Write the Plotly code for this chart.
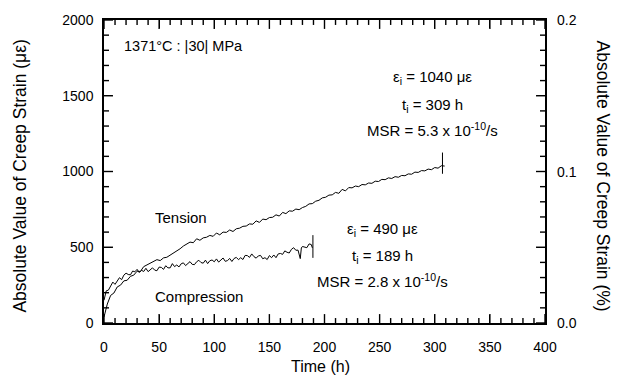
import plotly.graph_objects as go

# ---- data ----
tension_t = [0, 3, 6, 9, 12, 15, 18, 21, 24, 27, 30, 33, 36, 39, 42, 45, 48, 51, 54, 57,
             60, 63, 66, 69, 72, 75, 78, 81, 84, 87, 90, 93, 96, 99, 102, 105, 108, 111, 114, 117,
             120, 123, 126, 129, 132, 135, 138, 141, 144, 147, 150, 153, 156, 159, 162, 165, 168, 171, 174, 177,
             180, 183, 186, 189, 192, 195, 198, 201, 204, 207, 210, 213, 216, 219, 222, 225, 228, 231, 234, 237,
             240, 243, 246, 249, 252, 255, 258, 261, 264, 267, 270, 273, 276, 279, 282, 285, 288, 291, 294, 297,
             300, 303, 306, 309]
tension_strain = [40, 125, 182, 198, 238, 250, 278, 282, 308, 316, 342, 340, 372, 384, 396, 404, 418, 412, 430, 434,
                  448, 460, 478, 490, 508, 520, 534, 530, 556, 546, 562, 566, 578, 572, 594, 582, 600, 598, 614, 604,
                  622, 626, 638, 640, 654, 652, 674, 664, 686, 682, 696, 698, 714, 706, 730, 722, 740, 738, 752, 748,
                  762, 770, 786, 788, 804, 810, 826, 830, 844, 846, 862, 856, 882, 872, 894, 892, 904, 900, 914, 912,
                  924, 922, 936, 934, 948, 946, 958, 954, 966, 962, 974, 972, 984, 982, 996, 994, 1006, 1004, 1016, 1012,
                  1026, 1022, 1038, 1036]

compression_t = [0, 2, 4, 6, 8, 10, 12, 14, 16, 18, 20, 22, 24, 26, 28, 30, 32, 34, 36, 38,
                 40, 42, 44, 46, 48, 50, 52, 54, 56, 58, 60, 62, 64, 66, 68, 70, 72, 74, 76, 78,
                 80, 82, 84, 86, 88, 90, 92, 94, 96, 98, 100, 102, 104, 106, 108, 110, 112, 114, 116, 118,
                 120, 122, 124, 126, 128, 130, 132, 134, 136, 138, 140, 142, 144, 146, 148, 150, 152, 154, 156, 158,
                 160, 162, 164, 166, 168, 170, 172, 174, 176, 178, 179, 180, 182, 184, 186, 188, 189]
compression_strain = [150, 212, 217, 243, 270, 255, 276, 299, 286, 316, 329, 320, 318, 343, 338, 354, 333, 348, 340, 361,
                      339, 354, 364, 349, 345, 369, 367, 354, 378, 364, 364, 392, 372, 383, 370, 391, 397, 379, 391, 405,
                      387, 385, 404, 414, 399, 395, 415, 392, 411, 416, 404, 423, 402, 415, 429, 407, 412, 426, 406, 426,
                      433, 418, 431, 419, 446, 445, 433, 456, 438, 428, 443, 446, 424, 431, 419, 445, 431, 449, 431, 456,
                      459, 453, 476, 467, 462, 486, 497, 480, 481, 425, 495, 505, 502, 497, 522, 518, 496]

# end-of-test markers (vertical bars)
end_t = [307, 189.5]
end_low = [985, 430]
end_high = [1125, 580]

x_ticks = [0, 50, 100, 150, 200, 250, 300, 350, 400]
y_ticks = [0, 500, 1000, 1500, 2000]
x_minor_step = 10
y_minor_step = 100
# right-hand (%) axis labels, placed at the matching µε positions (1000 µε = 0.1 %)
y2_pos = [0, 1000, 2000]
y2_labels = ["0.0", "0.1", "0.2"]

FONT = "Liberation Sans, Arial, Helvetica, sans-serif"
line_style = dict(color="black", width=1)

# plot-area size in pixels (used to turn tick lengths in px into axis units)
W, H = 619, 386
ML, MR, MT, MB = 104, 74, 17, 63
PW, PH = W - ML - MR, H - MT - MB
X0, X1 = x_ticks[0], x_ticks[-1]
Y0, Y1 = y_ticks[0], y_ticks[-1]
ux = (X1 - X0) / PW   # axis units per pixel
uy = (Y1 - Y0) / PH
MAJOR_LEN, MINOR_LEN = 9, 5

fig = go.Figure()
fig.add_trace(go.Scatter(x=tension_t, y=tension_strain, mode="lines", line=line_style,
                         showlegend=False, hoverinfo="skip"))
fig.add_trace(go.Scatter(x=compression_t, y=compression_strain, mode="lines", line=line_style,
                         showlegend=False, hoverinfo="skip"))
for t, lo, hi in zip(end_t, end_low, end_high):
    fig.add_trace(go.Scatter(x=[t, t], y=[lo, hi], mode="lines", line=line_style,
                             showlegend=False, hoverinfo="skip"))

# inward tick marks on all four sides (major + minor), one short segment per tick
xv = X0
while xv <= X1:
    L = MAJOR_LEN if xv in x_ticks else MINOR_LEN
    for ya, yb in ((Y0, Y0 + L * uy), (Y1, Y1 - L * uy)):
        fig.add_trace(go.Scatter(x=[xv, xv], y=[ya, yb], mode="lines",
                                 line=dict(color="black", width=1.4),
                                 showlegend=False, hoverinfo="skip"))
    xv += x_minor_step
yv = Y0
while yv <= Y1:
    L = MAJOR_LEN if yv in y_ticks else MINOR_LEN
    for xa, xb in ((X0, X0 + L * ux), (X1, X1 - L * ux)):
        fig.add_trace(go.Scatter(x=[xa, xb], y=[yv, yv], mode="lines",
                                 line=dict(color="black", width=1.4),
                                 showlegend=False, hoverinfo="skip"))
    yv += y_minor_step

fig.update_layout(
    width=W, height=H,
    margin=dict(l=ML, r=MR, t=MT, b=MB),
    plot_bgcolor="white", paper_bgcolor="white",
    font=dict(family=FONT, size=14, color="black"),
)
fig.update_xaxes(range=[X0, X1], tickmode="array", tickvals=x_ticks,
                 showline=True, linecolor="black", linewidth=1.5, showgrid=False, zeroline=False,
                 ticks="inside", ticklen=8, tickwidth=1.4, tickcolor="black", mirror="ticks",
                 ticklabelstandoff=10, tickfont=dict(family=FONT, size=14, color="black"))
fig.update_yaxes(range=[Y0, Y1], tickmode="array", tickvals=y_ticks,
                 showline=True, linecolor="black", linewidth=1.5, showgrid=False, zeroline=False,
                 ticks="inside", ticklen=8, tickwidth=1.4, tickcolor="black", mirror="ticks",
                 ticklabelstandoff=6, tickfont=dict(family=FONT, size=14, color="black"))

def ann(x, y, text, xref="x", yref="y", size=15, angle=0, xanchor="center", xshift=0):
    fig.add_annotation(x=x, y=y, xref=xref, yref=yref, text=text, showarrow=False,
                       textangle=angle, xanchor=xanchor, yanchor="middle", xshift=xshift,
                       font=dict(family=FONT, size=size, color="black"))

for pos, lab in zip(y2_pos, y2_labels):
    ann(1, pos, lab, xref="paper", size=14, xanchor="left", xshift=10)

ann(16, 1830, "1371°C : |30| MPa", xanchor="left", size=14.5)
ann(298, 1621, "ε<sub>i</sub> = 1040 με")
ann(298, 1438, "t<sub>i</sub> = 309 h")
ann(298, 1275, "MSR = 5.3 x 10<sup>-10</sup>/s")
ann(253, 614, "ε<sub>i</sub> = 490 με")
ann(253, 438, "t<sub>i</sub> = 189 h")
ann(253, 281, "MSR = 2.8 x 10<sup>-10</sup>/s")
ann(44.5, 699, "Tension", xanchor="left")
ann(44.5, 176, "Compression", xanchor="left")

ann(0.492, -0.144, "Time (h)", xref="paper", yref="paper", size=16)
ann(-0.19, 0.484, "Absolute Value of Creep Strain (με)", xref="paper", yref="paper", size=17.5, angle=-90)
ann(1.131, 0.484, "Absolute Value of Creep Strain (%)", xref="paper", yref="paper", size=17.5, angle=90)

fig.write_html("out.html")
